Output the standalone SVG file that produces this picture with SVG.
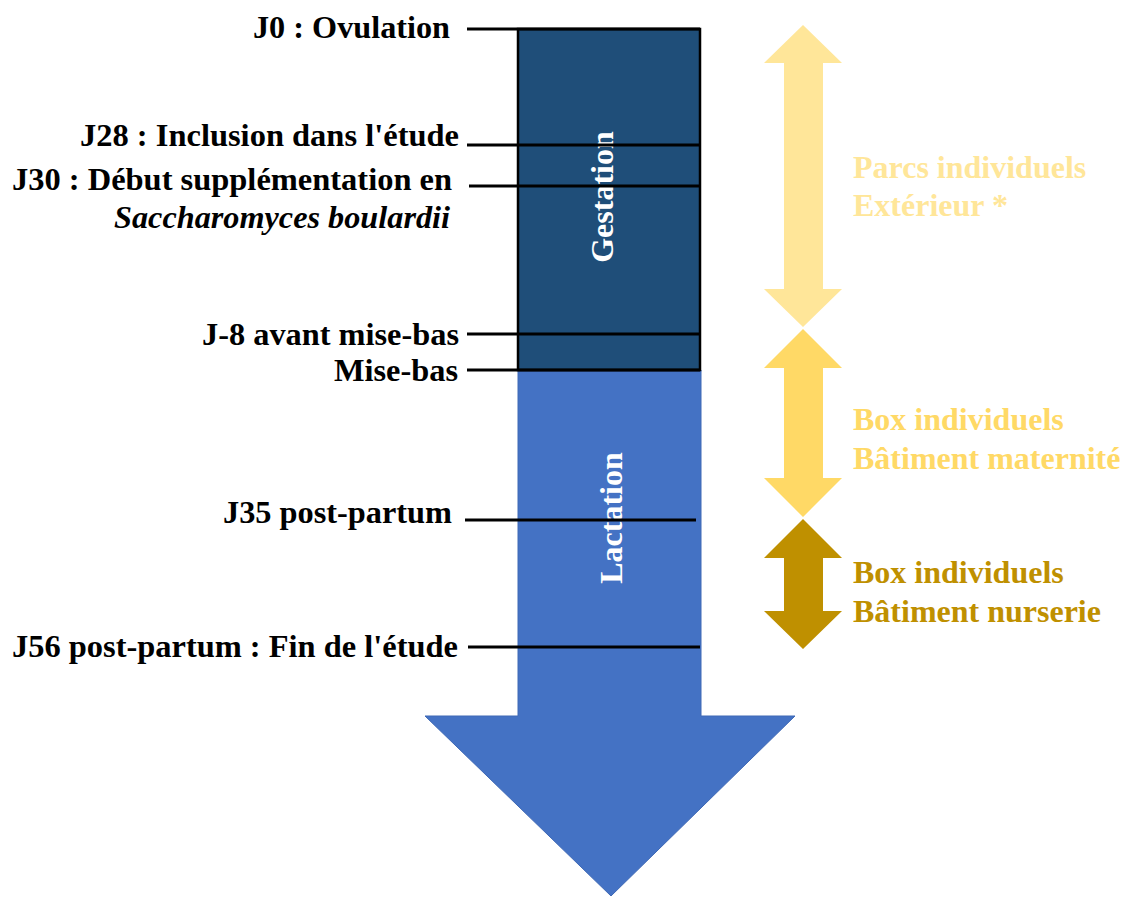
<svg xmlns="http://www.w3.org/2000/svg" width="1129" height="898" viewBox="0 0 1129 898">
<style>
.lbl{font-family:"Liberation Serif","Times New Roman",serif;font-weight:bold;font-size:32px;fill:#000;text-anchor:end}
.it{font-style:italic}
.rl{font-family:"Liberation Serif","Times New Roman",serif;font-weight:bold;font-size:32px}
.vt{font-family:"Liberation Serif","Times New Roman",serif;font-weight:bold;font-size:32px;fill:#fff;text-anchor:middle}
.tick{stroke:#000;stroke-width:3;fill:none}
</style>
<rect width="1129" height="898" fill="#fff"/>
<g id="lactation">
<polygon points="518,370 701,370 701,716 795,716 611,896 425,716 518,716" fill="#4472C4" stroke="#3F69B5" stroke-width="1"/>
<text class="vt" transform="translate(622,518) rotate(-90)">Lactation</text>
</g>
<g id="gestation">
<rect x="518" y="29" width="182" height="341" fill="#1F4E79" stroke="#000" stroke-width="2.5"/>
<text class="vt" transform="translate(613,197) rotate(-90)">Gestation</text>
</g>
<g id="connectors">
<line class="tick" x1="467" y1="29" x2="700" y2="29"/>
<line class="tick" x1="467" y1="145" x2="700" y2="145"/>
<line class="tick" x1="469" y1="186" x2="700" y2="186"/>
<line class="tick" x1="467" y1="334" x2="700" y2="334"/>
<line class="tick" x1="467" y1="370" x2="700" y2="370"/>
<line class="tick" x1="465" y1="520" x2="696" y2="520"/>
<line class="tick" x1="468" y1="647" x2="700" y2="647"/>
</g>
<g id="labels">
<text class="lbl" x="450" y="38" textLength="197" lengthAdjust="spacingAndGlyphs">J0 : Ovulation</text>
<text class="lbl" x="459" y="146" textLength="379" lengthAdjust="spacingAndGlyphs">J28 : Inclusion dans l'étude</text>
<text class="lbl" x="452" y="190" textLength="440" lengthAdjust="spacingAndGlyphs">J30 : Début supplémentation en</text>
<text class="lbl it" x="450" y="228" textLength="336" lengthAdjust="spacingAndGlyphs">Saccharomyces boulardii</text>
<text class="lbl" x="459" y="345" textLength="257" lengthAdjust="spacingAndGlyphs">J-8 avant mise-bas</text>
<text class="lbl" x="458" y="381" textLength="124" lengthAdjust="spacingAndGlyphs">Mise-bas</text>
<text class="lbl" x="452" y="523" textLength="229" lengthAdjust="spacingAndGlyphs">J35 post-partum</text>
<text class="lbl" x="458" y="657" textLength="446" lengthAdjust="spacingAndGlyphs">J56 post-partum : Fin de l'étude</text>
</g>
<g id="parcs">
<polygon points="803,25 842,63 823,63 823,289 842,289 803,327 764,289 784,289 784,63 764,63" fill="#FFE699"/>
<text class="rl" x="853" y="178" fill="#FFE699">Parcs individuels</text>
<text class="rl" x="853" y="216" fill="#FFE699">Extérieur *</text>
</g>
<g id="maternite">
<polygon points="803,329 842,368 823,368 823,478 842,478 803,517 764,478 784,478 784,368 764,368" fill="#FFD966"/>
<text class="rl" x="853" y="430" fill="#FFD966">Box individuels</text>
<text class="rl" x="853" y="469" fill="#FFD966">Bâtiment maternité</text>
</g>
<g id="nurserie">
<polygon points="803,519 842,558 823,558 823,611 842,611 803,649 764,611 784,611 784,558 764,558" fill="#BF9000"/>
<text class="rl" x="853" y="583" fill="#BF9000">Box individuels</text>
<text class="rl" x="853" y="622" fill="#BF9000">Bâtiment nurserie</text>
</g>
</svg>
